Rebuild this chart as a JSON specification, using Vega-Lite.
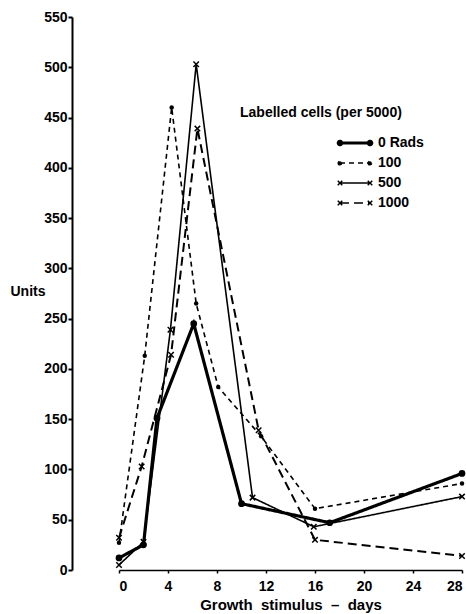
{
  "$schema": "https://vega.github.io/schema/vega-lite/v6.json",
  "width": 343,
  "height": 553,
  "autosize": "none",
  "padding": {"left": 119, "top": 17, "right": 4, "bottom": 44},
  "background": "white",
  "config": {"view": {"stroke": null}, "font": "Liberation Sans"},
  "data": {"values": [
    {"series": "0 Rads", "day": 0, "units": 12},
    {"series": "0 Rads", "day": 2, "units": 25},
    {"series": "0 Rads", "day": 3.1, "units": 151},
    {"series": "0 Rads", "day": 6.1, "units": 245},
    {"series": "0 Rads", "day": 10, "units": 66},
    {"series": "0 Rads", "day": 17.2, "units": 47},
    {"series": "0 Rads", "day": 28, "units": 96},
    {"series": "100", "day": 0, "units": 27},
    {"series": "100", "day": 2.1, "units": 213},
    {"series": "100", "day": 4.3, "units": 460},
    {"series": "100", "day": 6.3, "units": 265},
    {"series": "100", "day": 8.1, "units": 182},
    {"series": "100", "day": 11.6, "units": 133},
    {"series": "100", "day": 16, "units": 61},
    {"series": "100", "day": 28, "units": 86},
    {"series": "500", "day": 0, "units": 5},
    {"series": "500", "day": 2, "units": 28},
    {"series": "500", "day": 4.2, "units": 239},
    {"series": "500", "day": 6.3, "units": 503},
    {"series": "500", "day": 10.9, "units": 72},
    {"series": "500", "day": 15.9, "units": 43},
    {"series": "500", "day": 28, "units": 73},
    {"series": "1000", "day": 0, "units": 32},
    {"series": "1000", "day": 1.85, "units": 103},
    {"series": "1000", "day": 4.25, "units": 214},
    {"series": "1000", "day": 6.4, "units": 439},
    {"series": "1000", "day": 11.4, "units": 139},
    {"series": "1000", "day": 16, "units": 30},
    {"series": "1000", "day": 28, "units": 14}
  ]},
  "encoding": {
    "x": {
      "field": "day", "type": "quantitative",
      "scale": {"domain": [0, 28], "nice": false, "zero": false},
      "axis": {
        "values": [0, 4, 8, 12, 16, 20, 24, 28],
        "title": "Growth\u00a0 stimulus\u00a0 –\u00a0 days",
        "grid": false,
        "domainColor": "black", "domainWidth": 1.5,
        "tickColor": "black", "tickSize": 3, "tickWidth": 1.5,
        "labelFont": "Liberation Sans", "labelFontWeight": "bold", "labelFontSize": 14, "labelColor": "black", "labelPadding": 6,
        "titleFont": "Liberation Sans", "titleFontSize": 15, "titleFontWeight": "bold", "titleColor": "black", "titlePadding": 4
      }
    },
    "y": {
      "field": "units", "type": "quantitative",
      "scale": {"domain": [0, 550], "nice": false},
      "axis": {
        "values": [0, 50, 100, 150, 200, 250, 300, 350, 400, 450, 500, 550],
        "offset": 47,
        "grid": false,
        "domainColor": "black", "domainWidth": 2,
        "tickColor": "black", "tickSize": 4, "tickWidth": 2,
        "labelFont": "Liberation Sans", "labelFontWeight": "bold", "labelFontSize": 14, "labelColor": "black", "labelPadding": 1,
        "title": "Units",
        "titleFont": "Liberation Sans", "titleFontSize": 14, "titleFontWeight": "bold", "titleColor": "black",
        "titleAngle": 0, "titleAlign": "left", "titleBaseline": "middle", "titleX": -62, "titleY": 274
      }
    }
  },
  "layer": [
    {
      "mark": {"type": "line", "color": "black"},
      "encoding": {
        "strokeDash": {
          "field": "series", "type": "nominal",
          "scale": {"domain": ["0 Rads", "100", "500", "1000"], "range": [[1, 0], [5, 4], [1, 0], [9, 5]]},
          "legend": {
            "title": "Labelled cells (per 5000)",
            "orient": "none", "legendX": 121, "legendY": 89,
            "titleFont": "Liberation Sans", "titleFontSize": 14, "titleFontWeight": "bold", "titleColor": "black", "titlePadding": 13,
            "labelFont": "Liberation Sans", "labelFontSize": 14, "labelFontWeight": "bold", "labelColor": "black", "labelOffset": 16,
            "symbolSize": 900, "symbolStrokeColor": "black", "symbolFillColor": "black", "symbolOffset": 108,
            "clipHeight": 20, "rowPadding": 0,
            "encode": {
              "symbols": {
                "update": {
                  "shape": {"signal": "(datum.value === '0 Rads' || datum.value === '100') ? 'M-1,0L1,0M-1.12,0a0.12,0.12 0 1,0 0.24,0a0.12,0.12 0 1,0 -0.24,0M0.88,0a0.12,0.12 0 1,0 0.24,0a0.12,0.12 0 1,0 -0.24,0' : 'M-1,0L1,0M-1.15,-0.15L-0.85,0.15M-1.15,0.15L-0.85,-0.15M0.85,-0.15L1.15,0.15M0.85,0.15L1.15,-0.15'"},
                  "strokeWidth": {"signal": "datum.value === '0 Rads' ? 3 : 1.5"},
                  "fill": {"value": "black"},
                  "stroke": {"value": "black"}
                }
              }
            }
          }
        },
        "strokeWidth": {
          "condition": [
            {"test": "datum.series === '0 Rads'", "value": 3.2},
            {"test": "datum.series === '1000'", "value": 2}
          ],
          "value": 1.6
        }
      }
    },
    {
      "transform": [{"filter": "datum.series === '0 Rads' || datum.series === '100'"}],
      "mark": {"type": "point", "filled": true, "color": "black", "shape": "circle", "opacity": 1},
      "encoding": {
        "size": {
          "condition": {"test": "datum.series === '0 Rads'", "value": 45},
          "value": 20
        }
      }
    },
    {
      "transform": [{"filter": "datum.series === '500' || datum.series === '1000'"}],
      "mark": {"type": "point", "filled": false, "color": "black", "shape": "M-1,-1L1,1M-1,1L1,-1", "size": 30, "strokeWidth": 1.5, "opacity": 1}
    }
  ]
}
